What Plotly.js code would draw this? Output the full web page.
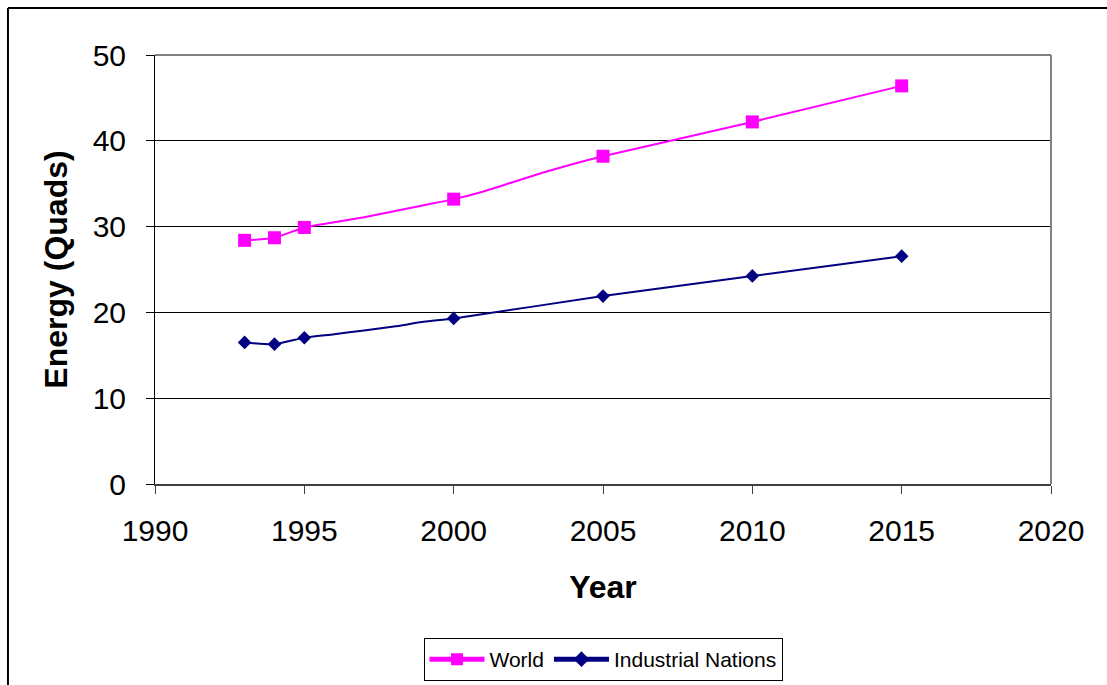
<!DOCTYPE html>
<html>
<head>
<meta charset="utf-8">
<script src="https://cdn.plot.ly/plotly-3.0.1.min.js"></script>
<style>
  html, body { margin: 0; padding: 0; background: #fff; }
  #chart { width: 1107px; height: 685px; }
</style>
</head>
<body>
<div id="chart"></div>
<script>
// Data
var worldYears = [1993, 1994, 1995, 1996, 1997, 1998, 1999, 2000, 2001, 2002, 2003, 2004, 2005, 2010, 2015];
var worldValues = [28.4, 28.7, 29.9, 30.5, 31.1, 31.8, 32.5, 33.2, 34.1, 35.2, 36.3, 37.3, 38.2, 42.2, 46.4];
var industrialYears = [1993, 1994, 1995, 1996, 1997, 1998, 1999, 2000, 2005, 2010, 2015];
var industrialValues = [16.5, 16.3, 17.05, 17.45, 17.9, 18.35, 18.9, 19.3, 21.9, 24.25, 26.55];
var markerYears = [1993, 1994, 1995, 2000, 2005, 2010, 2015];
var seriesNames = ['World', 'Industrial Nations'];
var xTickValues = [1990, 1995, 2000, 2005, 2010, 2015, 2020];
var yTickValues = [0, 10, 20, 30, 40, 50];

function sizes(years, s) {
  return years.map(function (y) { return markerYears.indexOf(y) >= 0 ? s : 0; });
}

var FONT = 'Liberation Sans, Arial, sans-serif';

var traces = [
  {
    x: worldYears, y: worldValues, name: seriesNames[0], type: 'scatter', mode: 'lines+markers',
    line: { color: '#FF00FF', width: 2, shape: 'spline', smoothing: 0.6 },
    marker: { symbol: 'square', color: '#FF00FF', opacity: 1, size: sizes(worldYears, 13), line: { width: 0 } }
  },
  {
    x: industrialYears, y: industrialValues, name: seriesNames[1], type: 'scatter', mode: 'lines+markers',
    line: { color: '#000080', width: 2, shape: 'spline', smoothing: 0.6 },
    marker: { symbol: 'diamond', color: '#000080', opacity: 1, size: sizes(industrialYears, 10.5), line: { width: 0 } }
  }
];

var layout = {
  width: 1107, height: 685,
  margin: { l: 155, r: 56, t: 55, b: 201, autoexpand: false },
  paper_bgcolor: '#ffffff', plot_bgcolor: '#ffffff',
  font: { family: FONT, color: '#000' },
  showlegend: true,
  legend: {
    orientation: 'h', xref: 'paper', x: 0.5, xanchor: 'center',
    yref: 'container', y: 0.0686, yanchor: 'top',
    bordercolor: '#000', borderwidth: 1, bgcolor: '#fff',
    font: { family: FONT, size: 21, color: '#000' },
    itemsizing: 'constant', itemwidth: 55, traceorder: 'normal'
  },
  xaxis: {
    range: [1990, 2020], tickvals: xTickValues, ticktext: xTickValues.map(String),
    showgrid: false, zeroline: false, automargin: false,
    showline: true, linecolor: '#404040', linewidth: 2,
    ticks: 'outside', ticklen: 8, tickcolor: '#404040', tickwidth: 1,
    tickfont: { family: FONT, size: 30, color: '#000' },
    ticklabelstandoff: 11,
    title: { text: '<b>Year</b>', font: { family: FONT, size: 32, color: '#000' }, standoff: 30 }
  },
  yaxis: {
    range: [0, 50], tickvals: yTickValues, ticktext: yTickValues.map(String),
    showgrid: true, gridcolor: '#000000', gridwidth: 1, zeroline: false, automargin: false,
    showline: true, linecolor: '#000000', linewidth: 1,
    ticks: 'outside', ticklen: 8, tickcolor: '#000', tickwidth: 1,
    tickfont: { family: FONT, size: 30, color: '#000' },
    ticklabelstandoff: 14,
    title: { text: '<b>Energy (Quads)</b>', font: { family: FONT, size: 32, color: '#000' }, standoff: 15 }
  },
  shapes: [
    { type: 'line', xref: 'paper', yref: 'paper', x0: 0, x1: 1, y0: 1, y1: 1, line: { color: '#808080', width: 2 }, layer: 'above' },
    { type: 'line', xref: 'paper', yref: 'paper', x0: 1, x1: 1, y0: 0, y1: 1, line: { color: '#808080', width: 2 }, layer: 'above' },
    { type: 'line', xref: 'paper', yref: 'paper', x0: -0.1641, x1: 1.2, y0: 1.1096, y1: 1.1096, line: { color: '#000', width: 2 } },
    { type: 'line', xref: 'paper', yref: 'paper', x0: -0.1641, x1: -0.1641, y0: -1, y1: 1.1096, line: { color: '#000', width: 2 } }
  ]
};

Plotly.newPlot('chart', traces, layout, { displayModeBar: false, staticPlot: true });
</script>
</body>
</html>
